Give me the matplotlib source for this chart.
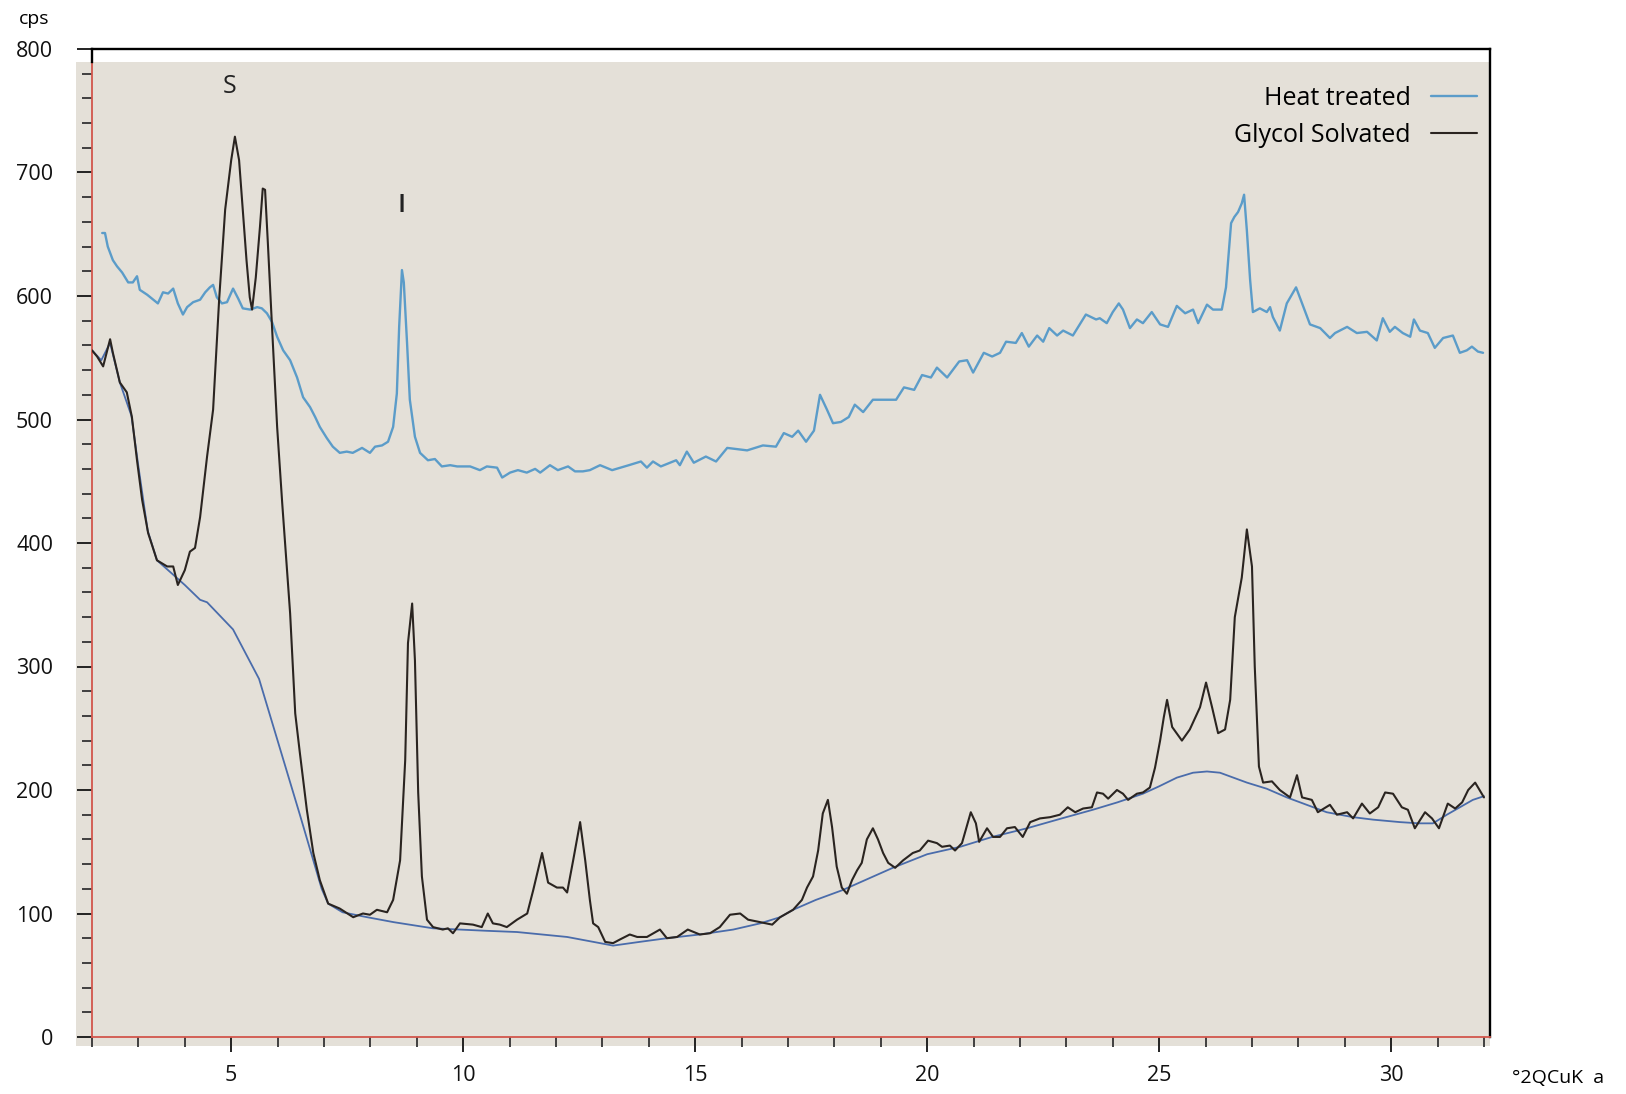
import matplotlib
matplotlib.use("Agg")
import matplotlib.pyplot as plt
from matplotlib.patches import Rectangle
from matplotlib.ticker import MultipleLocator

plt.rcParams['font.family'] = ['Open Sans', 'DejaVu Sans']

# ---------- data (2theta, cps) ----------
heat_x = [2.22, 2.28, 2.34, 2.39, 2.45, 2.54, 2.65, 2.78, 2.88, 2.97, 3.03, 3.19, 3.32, 3.42,
          3.53, 3.64, 3.75, 3.85, 3.96, 4.05, 4.18, 4.33, 4.44, 4.54, 4.61, 4.69, 4.80, 4.91,
          5.04, 5.15, 5.25, 5.41, 5.56, 5.66, 5.77, 5.88, 5.99, 6.12, 6.27, 6.42, 6.55, 6.70,
          6.81, 6.91, 7.06, 7.19, 7.34, 7.49, 7.62, 7.82, 7.99, 8.10, 8.25, 8.38, 8.49, 8.57,
          8.62, 8.68, 8.72, 8.79, 8.85, 8.96, 9.07, 9.24, 9.39, 9.54, 9.72, 9.87, 10.15, 10.36,
          10.51, 10.73, 10.84, 11.01, 11.18, 11.37, 11.55, 11.66, 11.87, 12.04, 12.26, 12.41,
          12.58, 12.73, 12.95, 13.21, 13.57, 13.83, 13.96, 14.09, 14.26, 14.59, 14.67, 14.82,
          14.97, 15.23, 15.45, 15.69, 16.12, 16.46, 16.74, 16.91, 17.09, 17.22, 17.39, 17.56,
          17.69, 17.84, 17.97, 18.14, 18.31, 18.44, 18.62, 18.83, 19.11, 19.33, 19.50, 19.72,
          19.89, 20.08, 20.21, 20.43, 20.69, 20.86, 20.99, 21.22, 21.40, 21.57, 21.70, 21.91,
          22.04, 22.19, 22.37, 22.50, 22.63, 22.80, 22.93, 23.14, 23.42, 23.64, 23.72, 23.87,
          24.00, 24.13, 24.22, 24.37, 24.52, 24.65, 24.84, 25.02, 25.19, 25.38, 25.56, 25.73,
          25.84, 26.03, 26.16, 26.35, 26.44, 26.55, 26.62, 26.70, 26.78, 26.83, 26.89, 26.96,
          27.02, 27.17, 27.32, 27.39, 27.45, 27.60, 27.75, 27.95, 28.08, 28.25, 28.47, 28.68,
          28.79, 29.05, 29.26, 29.48, 29.69, 29.82, 29.97, 30.08, 30.25, 30.41, 30.49, 30.62,
          30.79, 30.94, 31.12, 31.33, 31.48, 31.63, 31.74, 31.87, 31.98]
heat_y = [651, 651, 640, 635, 629, 624, 619, 611, 611, 616, 605, 601, 597, 594,
          603, 602, 606, 594, 585, 591, 595, 597, 603, 607, 609, 599, 594, 595,
          606, 598, 590, 589, 591, 590, 586, 579, 567, 556, 548, 534, 518, 510,
          502, 494, 485, 478, 473, 474, 473, 477, 473, 478, 479, 482, 494, 521,
          575, 621, 611, 562, 516, 486, 473, 467, 468, 462, 463, 462, 462, 459,
          462, 461, 453, 457, 459, 457, 460, 457, 463, 459, 462, 458,
          458, 459, 463, 459, 463, 466, 461, 466, 462, 467, 463, 474,
          465, 470, 466, 477, 475, 479, 478, 489, 486, 491, 482, 491,
          520, 508, 497, 498, 502, 512, 506, 516, 516, 516, 526, 524,
          536, 534, 542, 534, 547, 548, 538, 554, 551, 554, 563, 562,
          570, 559, 568, 563, 574, 568, 572, 568, 585, 581, 582, 578,
          587, 594, 589, 574, 581, 578, 587, 577, 575, 592, 586, 589,
          578, 593, 589, 589, 607, 659, 664, 668, 675, 682, 653, 613,
          587, 590, 587, 591, 583, 572, 594, 607, 594, 577, 574, 566,
          570, 575, 570, 571, 564, 582, 571, 575, 570, 567, 581, 572,
          570, 558, 566, 568, 554, 556, 559, 555, 554]

glycol_x = [2.00, 2.11, 2.24, 2.39, 2.45, 2.60, 2.75, 2.86, 2.97, 3.08, 3.21, 3.40, 3.62, 3.75,
            3.85, 4.00, 4.11, 4.22, 4.33, 4.48, 4.61, 4.74, 4.87, 5.00, 5.08, 5.17, 5.25, 5.33,
            5.40, 5.45, 5.53, 5.62, 5.68, 5.73, 5.79, 5.88, 5.99, 6.10, 6.27, 6.38, 6.48, 6.63,
            6.77, 6.91, 7.09, 7.34, 7.63, 7.84, 7.99, 8.14, 8.36, 8.49, 8.64, 8.75, 8.81, 8.90,
            8.96, 9.03, 9.11, 9.22, 9.35, 9.56, 9.67, 9.78, 9.93, 10.21, 10.40, 10.53, 10.64,
            10.79, 10.94, 11.16, 11.38, 11.51, 11.70, 11.83, 12.02, 12.15, 12.24, 12.37, 12.52,
            12.63, 12.73, 12.80, 12.91, 13.06, 13.23, 13.38, 13.59, 13.75, 13.96, 14.24, 14.39,
            14.61, 14.84, 15.10, 15.32, 15.53, 15.75, 15.97, 16.14, 16.40, 16.66, 16.83, 17.11,
            17.30, 17.41, 17.54, 17.65, 17.75, 17.86, 17.95, 18.05, 18.16, 18.27, 18.38, 18.49,
            18.59, 18.70, 18.83, 18.94, 19.05, 19.16, 19.31, 19.48, 19.69, 19.84, 20.02, 20.21,
            20.32, 20.49, 20.60, 20.75, 20.94, 21.05, 21.12, 21.29, 21.42, 21.57, 21.72, 21.89,
            22.06, 22.22, 22.43, 22.65, 22.86, 23.03, 23.19, 23.36, 23.55, 23.66, 23.79, 23.90,
            24.09, 24.22, 24.33, 24.52, 24.65, 24.80, 24.91, 25.02, 25.10, 25.17, 25.28, 25.49,
            25.66, 25.88, 26.01, 26.14, 26.27, 26.42, 26.53, 26.63, 26.78, 26.89, 27.00, 27.06,
            27.15, 27.24, 27.43, 27.60, 27.82, 27.97, 28.08, 28.29, 28.42, 28.68, 28.83, 29.05,
            29.18, 29.37, 29.54, 29.72, 29.87, 30.04, 30.23, 30.36, 30.51, 30.73, 30.88, 31.03,
            31.22, 31.38, 31.53, 31.66, 31.81, 32.00]
glycol_y = [556, 551, 543, 565, 554, 530, 522, 502, 467, 435, 408, 386, 381, 381,
            366, 378, 393, 396, 421, 470, 508, 597, 670, 710, 729, 710, 670, 629,
            599, 589, 615, 656, 687, 686, 643, 575, 494, 432, 343, 262, 230, 184,
            149, 127, 108, 104, 97, 100, 99, 103, 101, 111, 143, 224, 319, 351,
            305, 198, 130, 95, 89, 87, 88, 84, 92, 91, 89, 100, 92,
            91, 89, 95, 100, 119, 149, 125, 121, 121, 117, 143, 174,
            143, 111, 92, 89, 77, 76, 79, 83, 81, 81, 87, 80,
            81, 87, 83, 84, 89, 99, 100, 95, 93, 91, 97, 103,
            111, 121, 130, 151, 181, 192, 170, 138, 121, 116, 127, 135,
            141, 160, 169, 160, 149, 141, 137, 143, 149, 151, 159, 157,
            154, 155, 151, 157, 182, 173, 158, 169, 162, 162, 169, 170,
            162, 174, 177, 178, 180, 186, 182, 185, 186, 198, 197, 193,
            200, 197, 192, 197, 198, 202, 218, 240, 259, 273, 251, 240,
            249, 267, 287, 267, 246, 249, 273, 340, 372, 411, 381, 300,
            219, 206, 207, 200, 194, 212, 194, 192, 182, 188, 180, 182,
            177, 189, 181, 186, 198, 197, 186, 184, 169, 182, 177, 169,
            189, 185, 190, 200, 206, 194]

# fitted background under the glycol trace
base_x = [2.00, 2.20, 2.39, 2.60, 2.85, 3.00, 3.20, 3.40, 3.70, 4.00, 4.33, 4.48, 5.04, 5.60,
          6.00, 6.48, 6.77, 6.95, 7.09, 7.40, 7.93, 8.50, 9.35, 10.50, 11.16, 12.24, 12.95,
          13.23, 13.80, 14.39, 15.10, 15.82, 16.40, 16.83, 17.11, 17.60, 18.18, 19.26, 20.00,
          20.71, 21.40, 22.15, 22.90, 23.57, 24.10, 24.65, 25.00, 25.38, 25.73, 26.03, 26.31,
          26.60, 26.89, 27.32, 27.75, 28.18, 28.61, 29.18, 29.61, 30.19, 30.60, 30.90, 31.20,
          31.48, 31.76, 32.00]
base_y = [556, 548, 562, 530, 503, 462, 410, 386, 376, 366, 354, 352, 330, 290,
          240, 180, 143, 120, 108, 101, 97, 93, 88, 86, 85, 81, 76,
          74, 77, 80, 83, 87, 92, 97, 103, 111, 119, 137, 148,
          154, 162, 169, 177, 184, 190, 197, 203, 210, 214, 215, 214,
          210, 206, 201, 194, 188, 182, 178, 176, 174, 173, 173, 180,
          186, 192, 195]

HEAT_C = '#5b9cc9'
BASE_C = '#4a6cab'
GLY_C = '#2a2420'
PANEL_C = '#e4e0d8'
RED_C = '#d2564c'

W, H = 1626, 1094
fig = plt.figure(figsize=(W / 100, H / 100), dpi=100)
fig.patch.set_facecolor('white')
ax = fig.add_axes([92 / W, 1 - 1037 / H, (1490 - 92) / W, (1037 - 49) / H])

# beige paper panel behind the plot (slightly larger than the axes)
ax.add_patch(Rectangle((-16 / 1398, -9 / 988), (1490 - 76) / 1398, (1046 - 62) / 988,
                       transform=ax.transAxes, facecolor=PANEL_C, edgecolor='none',
                       zorder=0, clip_on=False))

line_kw = dict(solid_joinstyle='round', solid_capstyle='round')
ax.plot(base_x, base_y, color=BASE_C, lw=1.3, zorder=2, **line_kw)
ax.plot(heat_x, heat_y, color=HEAT_C, lw=1.7, zorder=3, label='Heat treated', **line_kw)
ax.plot(glycol_x, glycol_y, color=GLY_C, lw=1.5, zorder=4, label='Glycol Solvated', **line_kw)

ax.set_xlim(2, 32.13)
ax.set_ylim(0, 800)
ax.xaxis.set_major_locator(MultipleLocator(5))
ax.xaxis.set_minor_locator(MultipleLocator(1))
ax.yaxis.set_major_locator(MultipleLocator(100))
ax.yaxis.set_minor_locator(MultipleLocator(20))

ax.tick_params(which='major', direction='out', length=11, width=1.4, color='#222222',
               labelsize=15.5, labelcolor='#111111')
ax.tick_params(axis='y', which='major', pad=17)
ax.tick_params(axis='x', which='major', pad=9)
ax.tick_params(which='minor', direction='out', length=7, width=1.3, color='#333333')

for side in ('left', 'bottom'):
    ax.spines[side].set_color(RED_C)
    ax.spines[side].set_linewidth(1.3)
for side in ('top', 'right'):
    ax.spines[side].set_color('black')
    ax.spines[side].set_linewidth(1.7)
# the left axis is black above the paper panel
ax.plot([0, 0], [789.5 / 800, 1], transform=ax.transAxes, color='black', lw=1.7,
        clip_on=False, zorder=5)

ax.text(4.97, 770, 'S', ha='center', va='center', fontsize=18, color='#222222')
ax.text(8.68, 673, 'I', ha='center', va='center', fontsize=19, fontweight='semibold',
        color='#222222')

fig.text(34 / W, 1 - 19 / H, 'cps', ha='center', va='center', fontsize=14)
fig.text(1512 / W, 1 - 1078 / H, '°2QCuK  a', ha='left', va='center', fontsize=14)

ax.legend(loc='upper right', bbox_to_anchor=(0.9907, 0.963), markerfirst=False,
          frameon=False, fontsize=18, handlelength=1.85, handletextpad=0.8,
          labelspacing=0.5, borderpad=0, borderaxespad=0)

fig.savefig('out.png', dpi=100)
